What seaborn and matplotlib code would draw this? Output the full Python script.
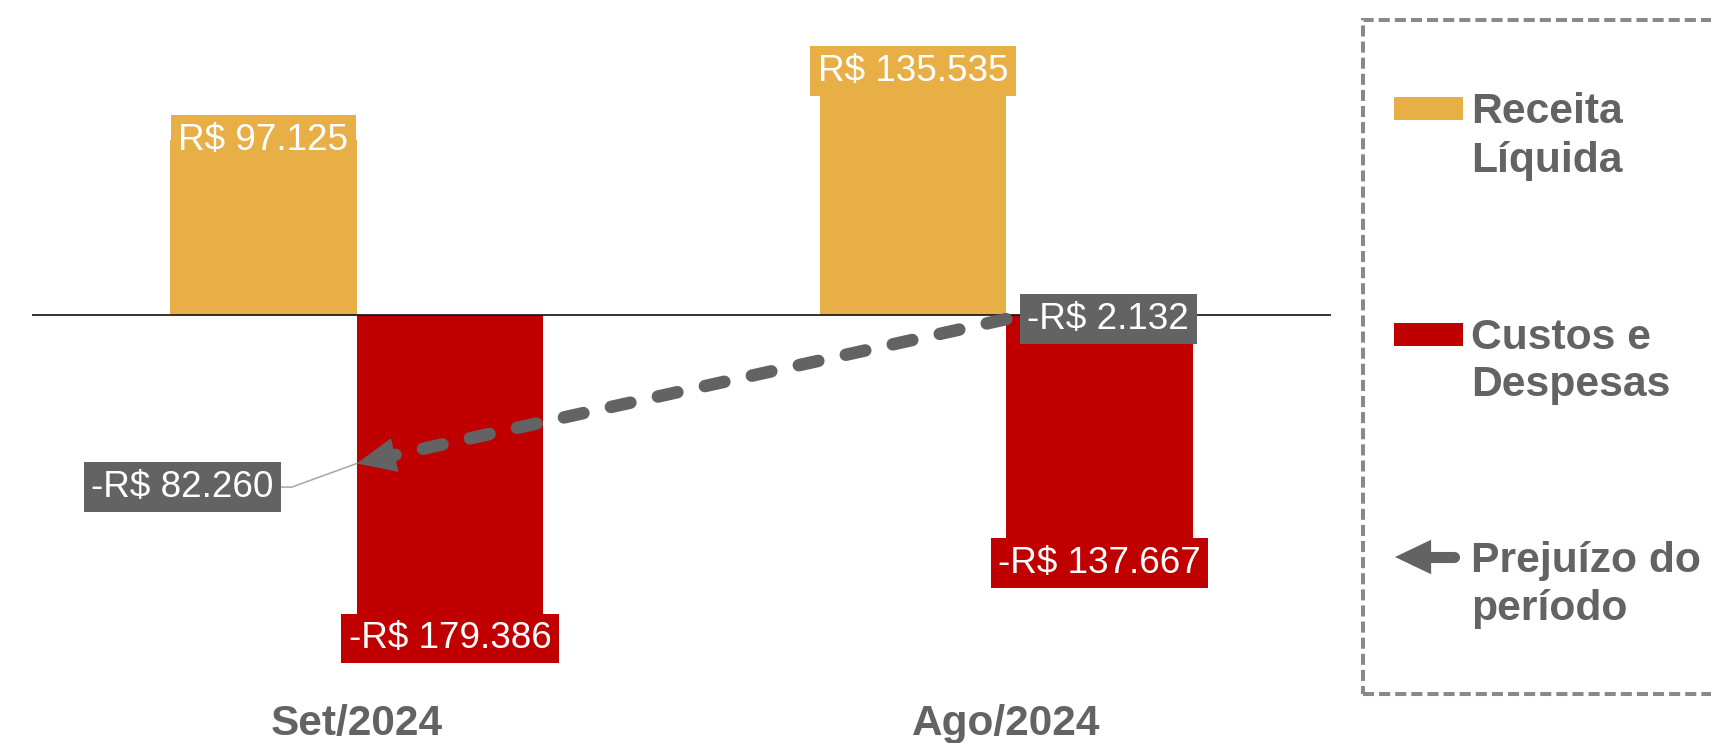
import matplotlib
matplotlib.use('Agg')
import matplotlib.pyplot as plt
import seaborn as sns
import pandas as pd
from matplotlib.patches import Rectangle, FancyArrowPatch
from matplotlib.lines import Line2D

# ---------------- data ----------------
periodos = ['Set/2024', 'Ago/2024']
series = ['Receita Líquida', 'Custos e Despesas']
receita = [97125, 135535]
custos = [-179386, -137667]
resultado = [-82260, -2132]
legenda = [['Receita', 'Líquida'], ['Custos e', 'Despesas'], ['Prejuízo do', 'período']]

AMARELO = '#E9AF47'
VERMELHO = '#C00000'
CINZA = '#636363'
CINZA_BORDA = '#898989'

sns.set_theme(style='white')
plt.rcParams['font.family'] = ['Liberation Sans', 'DejaVu Sans']

W, H = 1711, 743
fig = plt.figure(figsize=(W / 100, H / 100), dpi=100)
fig.patch.set_facecolor('white')
ax = fig.add_axes([32 / W, 53 / H, 1299 / W, 690 / H])


def fx(px):
    return px / W


def fy(py):
    return 1 - py / H


def fmt(v):
    s = f"{abs(v):,.0f}".replace(',', '.')
    return ('-' if v < 0 else '') + 'R$ ' + s


df = pd.DataFrame({
    'periodo': periodos * 2,
    'serie': [series[0]] * len(periodos) + [series[1]] * len(periodos),
    'valor': receita + custos,
})

sns.barplot(data=df, x='periodo', y='valor', hue='serie', order=periodos,
            hue_order=series, palette=[AMARELO, VERMELHO], saturation=1,
            width=0.575, errorbar=None, linewidth=0, legend=False, ax=ax,
            zorder=2)

ax.set_xlim(-0.5, 1.5)
ax.set_ylim(-208000, 175000)
ax.axhline(0, color='#111111', lw=1.2, zorder=3)
for s in ax.spines.values():
    s.set_visible(False)
ax.set_yticks([])
ax.set_xlabel('')
ax.set_ylabel('')
ax.tick_params(axis='x', length=0, pad=10, labelsize=30.5, labelcolor=CINZA)
for lab in ax.get_xticklabels():
    lab.set_fontweight('bold')

# bar-end labels
for p in ax.patches:
    if p.get_width() == 0:
        continue
    xc = p.get_x() + p.get_width() / 2
    end = p.get_y() + p.get_height()
    ax.annotate(fmt(round(end)), (xc, end), ha='center', va='center',
                fontsize=26.6, color='white', zorder=6,
                bbox=dict(boxstyle='square,pad=0.2', fc=p.get_facecolor(), ec='none'))

# loss arrow (from Ago result to Set result)
i_set = periodos.index('Set/2024')
i_ago = periodos.index('Ago/2024')
x0, y0 = i_ago, resultado[i_ago]
x1, y1 = i_set, resultado[i_set]
t = 0.057
bx, by = x1 + t * (x0 - x1), y1 + t * (y0 - y1)
ax.plot([x0, bx], [y0, by], color=CINZA, lw=9, ls=(0, (1.6, 2.25)),
        dash_capstyle='round', zorder=4)
ax.annotate('', xy=(x1, y1), xytext=(bx, by), zorder=4,
            arrowprops=dict(arrowstyle='-|>,head_length=1.4,head_width=0.62',
                            mutation_scale=20, fc=CINZA, ec=CINZA, lw=0,
                            shrinkA=0, shrinkB=0))

# result labels
ax.annotate(fmt(resultado[i_ago]), xy=(x0, y0), xytext=(15.2, 0),
            textcoords='offset points', ha='left', va='center', fontsize=26.6,
            color='white', zorder=7,
            bbox=dict(boxstyle='square,pad=0.2', fc=CINZA, ec='none'))
ax.annotate(fmt(resultado[i_set]), xy=(x1, y1), xytext=(-60, -17),
            textcoords='offset points', ha='right', va='center', fontsize=26.6,
            color='white', zorder=7,
            bbox=dict(boxstyle='square,pad=0.2', fc=CINZA, ec='none'),
            arrowprops=dict(arrowstyle='-', color='#A6A6A6', lw=1.1,
                            shrinkA=0, shrinkB=0, relpos=(1, 0.5),
                            connectionstyle='angle,angleA=0,angleB=20,rad=0'))

# ---------------- legend (manual) ----------------
box = Rectangle((fx(1363), fy(694)), fx(1800) - fx(1363), fy(20) - fy(694),
                transform=fig.transFigure, fill=False, ec=CINZA_BORDA, lw=2.9,
                ls=(0, (2.75, 1.25)), clip_on=False)
fig.add_artist(box)

for color, ytop in [(AMARELO, 97), (VERMELHO, 323)]:
    fig.add_artist(Rectangle((fx(1394), fy(ytop + 23)), fx(1463) - fx(1394),
                             fy(ytop) - fy(ytop + 23), transform=fig.transFigure,
                             fc=color, ec='none'))

# arrow handle
fig.add_artist(Line2D([fx(1431), fx(1454)], [fy(557), fy(557)],
                      transform=fig.transFigure, color=CINZA, lw=8,
                      solid_capstyle='round'))
fig.add_artist(FancyArrowPatch((fx(1433), fy(557)), (fx(1395), fy(557)),
                               transform=fig.transFigure,
                               arrowstyle='-|>,head_length=1.3,head_width=0.62',
                               mutation_scale=20, fc=CINZA, ec=CINZA, lw=0,
                               shrinkA=0, shrinkB=0))

baselines = [(123, 172), (349, 396), (572, 620)]
for linhas, bls in zip(legenda, baselines):
    for txt, bl in zip(linhas, bls):
        fig.text(fx(1471), fy(bl), txt, ha='left', va='baseline', fontsize=30.7,
                 fontweight='bold', color=CINZA)

fig.savefig('out.png', dpi=100, facecolor='white')
